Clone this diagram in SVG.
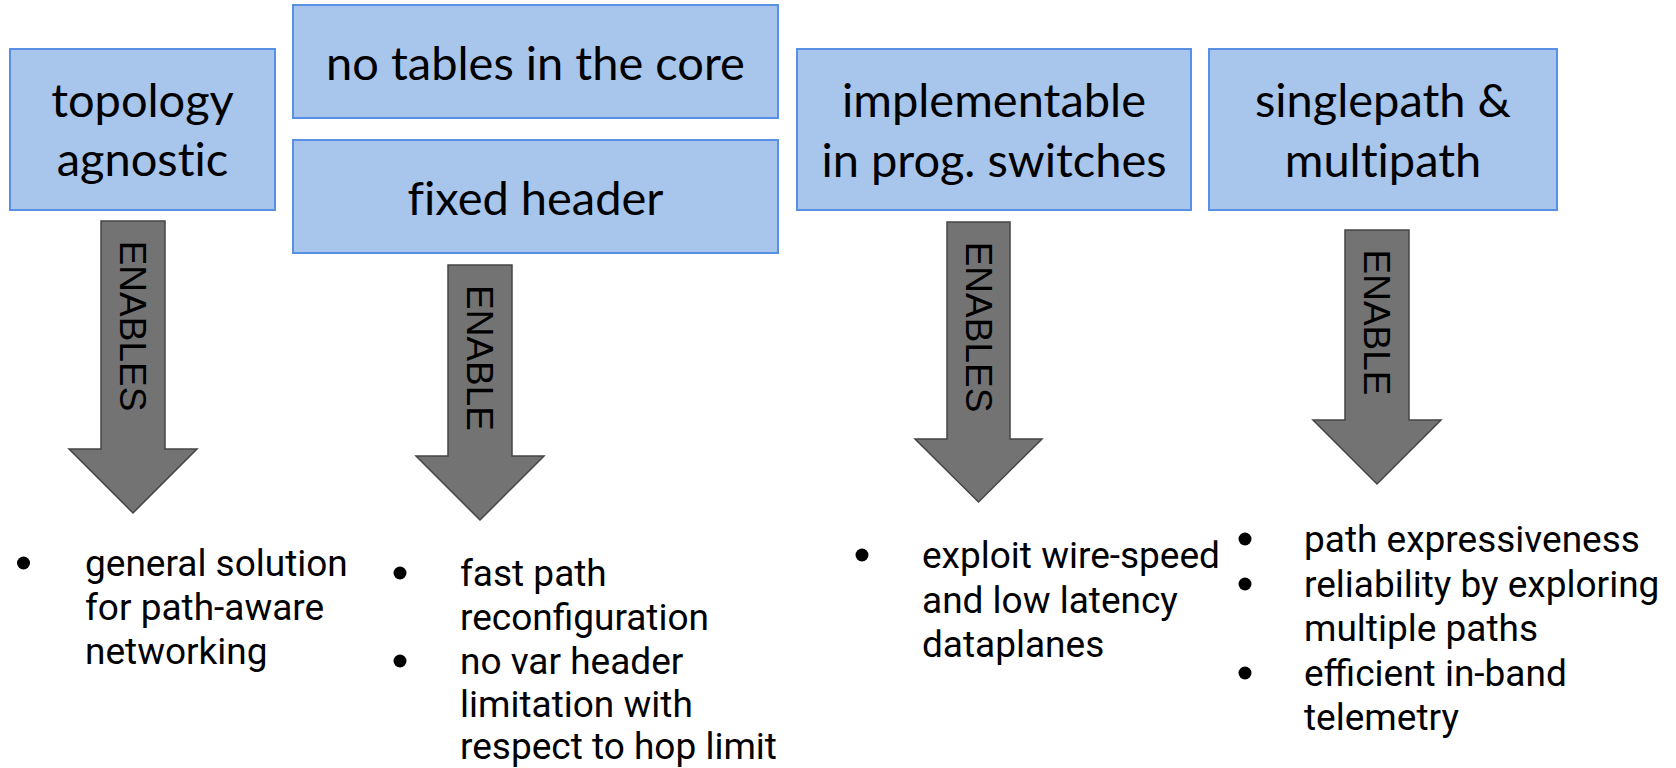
<svg xmlns="http://www.w3.org/2000/svg" width="1676" height="768" viewBox="0 0 1676 768">
<style>
.box{fill:#a8c5ec;stroke:#5a8fe6;stroke-width:2}
.bt{font-family:Lato,"Open Sans",sans-serif;font-size:47px;fill:#000;text-anchor:middle;font-variant-ligatures:none}
.arrow{fill:#737373;stroke:#454545;stroke-width:1.5;stroke-linejoin:miter}
.at{font-family:"Liberation Sans",Arial,sans-serif;font-size:37px;fill:#000;text-anchor:middle}
.li{font-family:Roboto,"Liberation Sans",sans-serif;font-size:37px;fill:#000}
.dot{fill:#000}
</style>
<rect width="1676" height="768" fill="#fff"/>
<g id="node-topology">
<rect class="box" x="10" y="49" width="265" height="161"/>
<text class="bt" x="142.5" y="117">topology</text>
<text class="bt" x="142.5" y="176">agnostic</text>
</g>
<g id="node-notables">
<rect class="box" x="293" y="5" width="485" height="113"/>
<text class="bt" x="535.5" y="80">no tables in the core</text>
</g>
<g id="node-fixedheader">
<rect class="box" x="293" y="140" width="485" height="113"/>
<text class="bt" x="535.5" y="215">fixed header</text>
</g>
<g id="node-implementable">
<rect class="box" x="797" y="49" width="394" height="161"/>
<text class="bt" x="994" y="117">implementable</text>
<text class="bt" x="994" y="176.5">in prog. switches</text>
</g>
<g id="node-singlepath">
<rect class="box" x="1209" y="49" width="348" height="161"/>
<text class="bt" x="1383" y="117">singlepath &amp;</text>
<text class="bt" x="1383" y="176.5">multipath</text>
</g>
<g id="connectors">
<g id="arrow1">
<path class="arrow" d="M101,221 H165 V449 H197 L133,513 L69,449 H101 Z"/>
<text class="at" transform="translate(120,326) rotate(90)">ENABLES</text>
</g>
<g id="arrow2">
<path class="arrow" d="M448,265 H512 V456 H544 L480,520 L416,456 H448 Z"/>
<text class="at" transform="translate(467,358) rotate(90)">ENABLE</text>
</g>
<g id="arrow3">
<path class="arrow" d="M947,222 H1010 V439 H1042 L978.5,502 L915,439 H947 Z"/>
<text class="at" transform="translate(965.5,327) rotate(90)">ENABLES</text>
</g>
<g id="arrow4">
<path class="arrow" d="M1345,230 H1409 V420 H1441 L1377,484 L1313,420 H1345 Z"/>
<text class="at" transform="translate(1363.5,322.5) rotate(90)">ENABLE</text>
</g>
</g>
<g id="list1">
<circle class="dot" cx="23.5" cy="563" r="6.5"/>
<text class="li" x="85" y="576">general solution</text>
<text class="li" x="85" y="620">for path-aware</text>
<text class="li" x="85" y="664">networking</text>
</g>
<g id="list2">
<circle class="dot" cx="400" cy="573" r="6.5"/>
<circle class="dot" cx="400" cy="661" r="6.5"/>
<text class="li" x="460" y="586">fast path</text>
<text class="li" x="460" y="630">reconfiguration</text>
<text class="li" x="460" y="674">no var header</text>
<text class="li" x="460" y="717">limitation with</text>
<text class="li" x="460" y="759">respect to hop limit</text>
</g>
<g id="list3">
<circle class="dot" cx="862" cy="555" r="6.5"/>
<text class="li" x="922" y="568">exploit wire-speed</text>
<text class="li" x="922" y="612.5">and low latency</text>
<text class="li" x="922" y="657">dataplanes</text>
</g>
<g id="list4">
<circle class="dot" cx="1245" cy="539" r="6.5"/>
<circle class="dot" cx="1245" cy="584" r="6.5"/>
<circle class="dot" cx="1245" cy="673" r="6.5"/>
<text class="li" x="1304" y="552">path expressiveness</text>
<text class="li" x="1304" y="597">reliability by exploring</text>
<text class="li" x="1304" y="641">multiple paths</text>
<text class="li" x="1304" y="686">efficient in-band</text>
<text class="li" x="1304" y="730">telemetry</text>
</g>
</svg>
